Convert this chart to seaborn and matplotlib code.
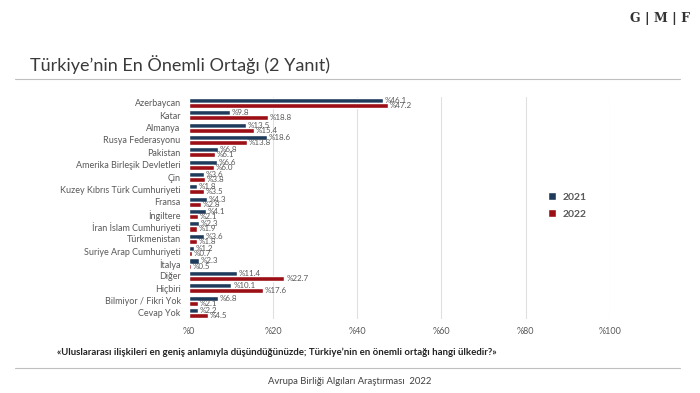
import matplotlib
matplotlib.use("Agg")
import matplotlib.pyplot as plt
import seaborn as sns
import pandas as pd
from matplotlib.lines import Line2D

categories = ["Azerbaycan", "Katar", "Almanya", "Rusya Federasyonu", "Pakistan",
              "Amerika Birleşik Devletleri", "Çin", "Kuzey Kıbrıs Türk Cumhuriyeti",
              "Fransa", "İngiltere", "İran İslam Cumhuriyeti", "Türkmenistan",
              "Suriye Arap Cumhuriyeti", "İtalya", "Diğer", "Hiçbiri",
              "Bilmiyor / Fikri Yok", "Cevap Yok"]
v2021 = [46.1, 9.8, 13.5, 18.6, 6.8, 6.6, 3.6, 1.8, 4.3, 4.1, 2.3, 3.6, 1.2, 2.3, 11.4, 10.1, 6.8, 2.2]
v2022 = [47.2, 18.8, 15.4, 13.8, 6.1, 6.0, 3.8, 3.5, 2.8, 2.1, 1.9, 1.8, 0.7, 0.5, 22.7, 17.6, 2.1, 4.5]
years = ["2021", "2022"]
xticks = [0, 20, 40, 60, 80, 100]
xticklabels = ["%0", "%20", "%40", "%60", "%80", "%100"]

sns.set_theme(style="white")
plt.rcParams['font.family'] = ['Lato', 'DejaVu Sans']

df = pd.DataFrame({
    "cat": categories * 2,
    "val": v2021 + v2022,
    "year": [years[0]] * len(categories) + [years[1]] * len(categories),
})

colors = {"2021": "#1f3b5c", "2022": "#9c0f16"}
gray = "#595959"

fig = plt.figure(figsize=(7, 3.93), dpi=100)
ax = fig.add_axes([0.27, 0.188, 0.601, 0.566])
sns.barplot(data=df, y="cat", x="val", hue="year", orient="h", palette=colors,
            width=0.82, ax=ax, legend=False, saturation=1)

ax.set_xlim(0, 100)
ax.set_ylim(len(categories) - 0.5, -0.5)
ax.set_xticks(xticks)
ax.set_xticklabels(xticklabels, color=gray, fontsize=6.5)
ax.tick_params(axis="x", length=0, pad=6)
ax.tick_params(axis="y", length=0, pad=6, labelsize=6.5, labelcolor=gray)
ax.set_xlabel("")
ax.set_ylabel("")
for s in ax.spines.values():
    s.set_visible(False)
for x in xticks[1:]:
    ax.axvline(x, color="#e0e0e0", lw=0.8, zorder=0)

for ci, cont in enumerate(ax.containers):
    for bar in cont:
        w = bar.get_width()
        yc = bar.get_y() + bar.get_height() / 2
        ax.text(w + 0.4, yc, f"%{w:.1f}", fontsize=5.8, color=gray,
                va="center", ha="left")

handles = [Line2D([0], [0], marker="s", color="w", markerfacecolor=colors[y],
                  markersize=6, label=y) for y in years]
leg = ax.legend(handles=handles, loc="center left", bbox_to_anchor=(0.815, 0.51),
                frameon=False, handletextpad=0.1, labelspacing=0.8,
                prop={"size": 7.5, "weight": "bold"})
for t in leg.get_texts():
    t.set_color(gray)

fig.text(0.043, 0.835, "Türkiye’nin En Önemli Ortağı (2 Yanıt)", fontsize=13,
         color="#3a3a3a", va="center", ha="left")
fig.add_artist(Line2D([0.021, 0.972], [0.80, 0.80], color="#bfbfbf", lw=0.8))
fig.text(0.985, 0.953, "G | M | F", fontsize=9, fontweight="bold",
         family="DejaVu Serif", color="#333333", ha="right", va="center")
fig.text(0.081, 0.104,
         "«Uluslararası ilişkileri en geniş anlamıyla düşündüğünüzde; Türkiye’nin en önemli ortağı hangi ülkedir?»",
         fontsize=6.9, fontweight="bold", color="#222222", ha="left", va="center")
fig.add_artist(Line2D([0.021, 0.972], [0.064, 0.064], color="#bfbfbf", lw=0.8))
fig.text(0.5, 0.028, "Avrupa Birliği Algıları Araştırması  2022", fontsize=6.8,
         color="#404040", ha="center", va="center")

fig.savefig("out.png", dpi=100)
